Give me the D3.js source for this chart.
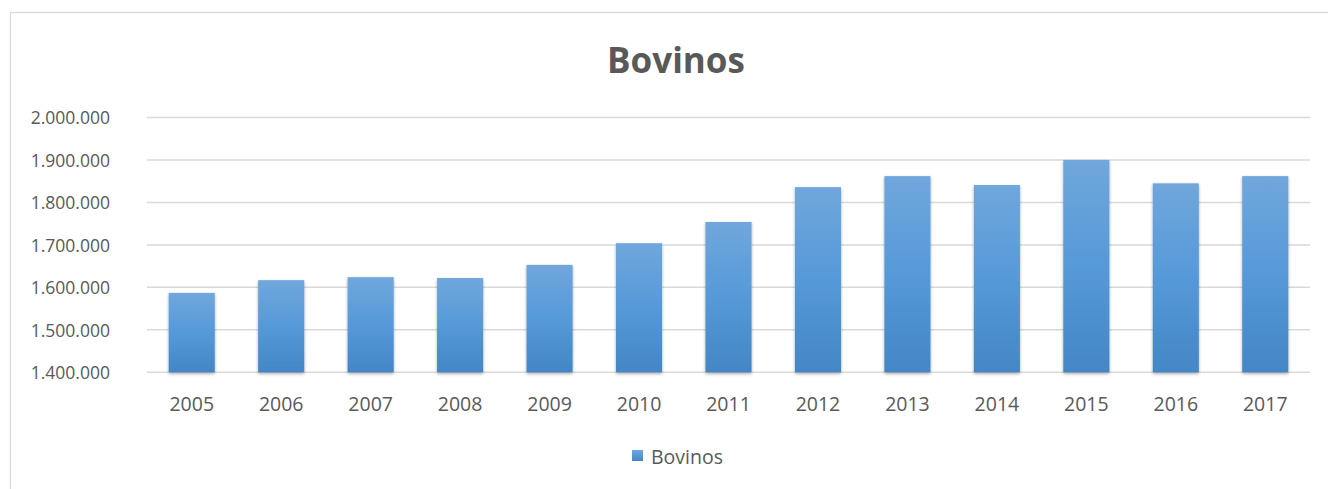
<!DOCTYPE html>
<html>
<head>
<meta charset="utf-8">
<script src="https://cdn.jsdelivr.net/npm/d3@7/dist/d3.min.js"></script>
<style>
  html, body { margin: 0; padding: 0; background: #fff; }
  svg { display: block; font-family: "Open Sans", "Noto Sans", sans-serif; }
</style>
</head>
<body>
<svg id="chart" width="1328" height="489"></svg>
<script>
const categories = ["2005","2006","2007","2008","2009","2010","2011","2012","2013","2014","2015","2016","2017"];
const values = [1587000, 1617000, 1624000, 1622000, 1653000, 1704000, 1754000, 1836000, 1862000, 1841000, 1900000, 1845000, 1862000];
const yTicks = [1400000, 1500000, 1600000, 1700000, 1800000, 1900000, 2000000];
const seriesName = "Bovinos";
const titleText = "Bovinos";

const svg = d3.select("#chart");

const defs = svg.append("defs");
const grad = defs.append("linearGradient").attr("id", "barGrad")
  .attr("x1", 0).attr("y1", 0).attr("x2", 0).attr("y2", 1);
grad.append("stop").attr("offset", "0%").attr("stop-color", "#70a7dc");
grad.append("stop").attr("offset", "50%").attr("stop-color", "#5699d9");
grad.append("stop").attr("offset", "100%").attr("stop-color", "#4386c6");
const flt = defs.append("filter").attr("id", "shadow")
  .attr("x", "-20%").attr("y", "-10%").attr("width", "140%").attr("height", "120%");
flt.append("feDropShadow").attr("dx", 0).attr("dy", 1.5).attr("stdDeviation", 1.5)
  .attr("flood-color", "#000").attr("flood-opacity", 0.35);

// chart border
svg.append("rect").attr("x", 10.5).attr("y", 12.5).attr("width", 1340).attr("height", 500)
  .attr("fill", "none").attr("stroke", "#d9d9d9").attr("stroke-width", 1.3);

const x = d3.scaleBand().domain(categories).range([147, 1310]).paddingInner(0.485).paddingOuter(0.2425);
const y = d3.scaleLinear().domain([1400000, 2000000]).range([372.3, 117.5]);

const fmt = v => d3.format(",")(v).replace(/,/g, ".");

// gridlines
svg.append("g").selectAll("line").data(yTicks).join("line")
  .attr("x1", 147).attr("x2", 1310)
  .attr("y1", d => y(d)).attr("y2", d => y(d))
  .attr("stroke", "#d9d9d9").attr("stroke-width", 1.5);

// y axis
const yAxis = d3.axisLeft(y).tickValues(yTicks).tickFormat(fmt).tickSize(0).tickPadding(0);
const gy = svg.append("g").attr("transform", "translate(110,0)").call(yAxis);
gy.select(".domain").remove();
gy.selectAll("text").attr("fill", "#595959").style("font-size", "17.5px").attr("dy", "0.36em")
  .style("font-family", "'Open Sans', sans-serif");

// bars
svg.append("g").selectAll("rect").data(values).join("rect")
  .attr("x", (d, i) => x(categories[i]))
  .attr("width", x.bandwidth())
  .attr("y", d => y(d))
  .attr("height", d => y(1400000) - y(d))
  .attr("fill", "url(#barGrad)")
  .attr("filter", "url(#shadow)");

// x axis
const xAxis = d3.axisBottom(x).tickSize(0).tickPadding(0);
const gx = svg.append("g").attr("transform", "translate(0,411)").call(xAxis);
gx.select(".domain").remove();
gx.selectAll("text").attr("fill", "#595959").style("font-size", "19.5px").attr("dy", 0)
  .style("font-family", "'Open Sans', sans-serif");

// title
svg.append("text").attr("x", 676).attr("y", 73).attr("text-anchor", "middle")
  .attr("fill", "#595959").style("font-size", "35px").style("font-weight", "bold")
  .text(titleText);

// legend
const lg = svg.append("g");
lg.append("rect").attr("x", 632).attr("y", 450).attr("width", 11).attr("height", 11)
  .attr("fill", "url(#barGrad)");
lg.append("text").attr("x", 651).attr("y", 464).attr("fill", "#595959")
  .style("font-size", "19.5px").text(seriesName);
</script>
</body>
</html>
